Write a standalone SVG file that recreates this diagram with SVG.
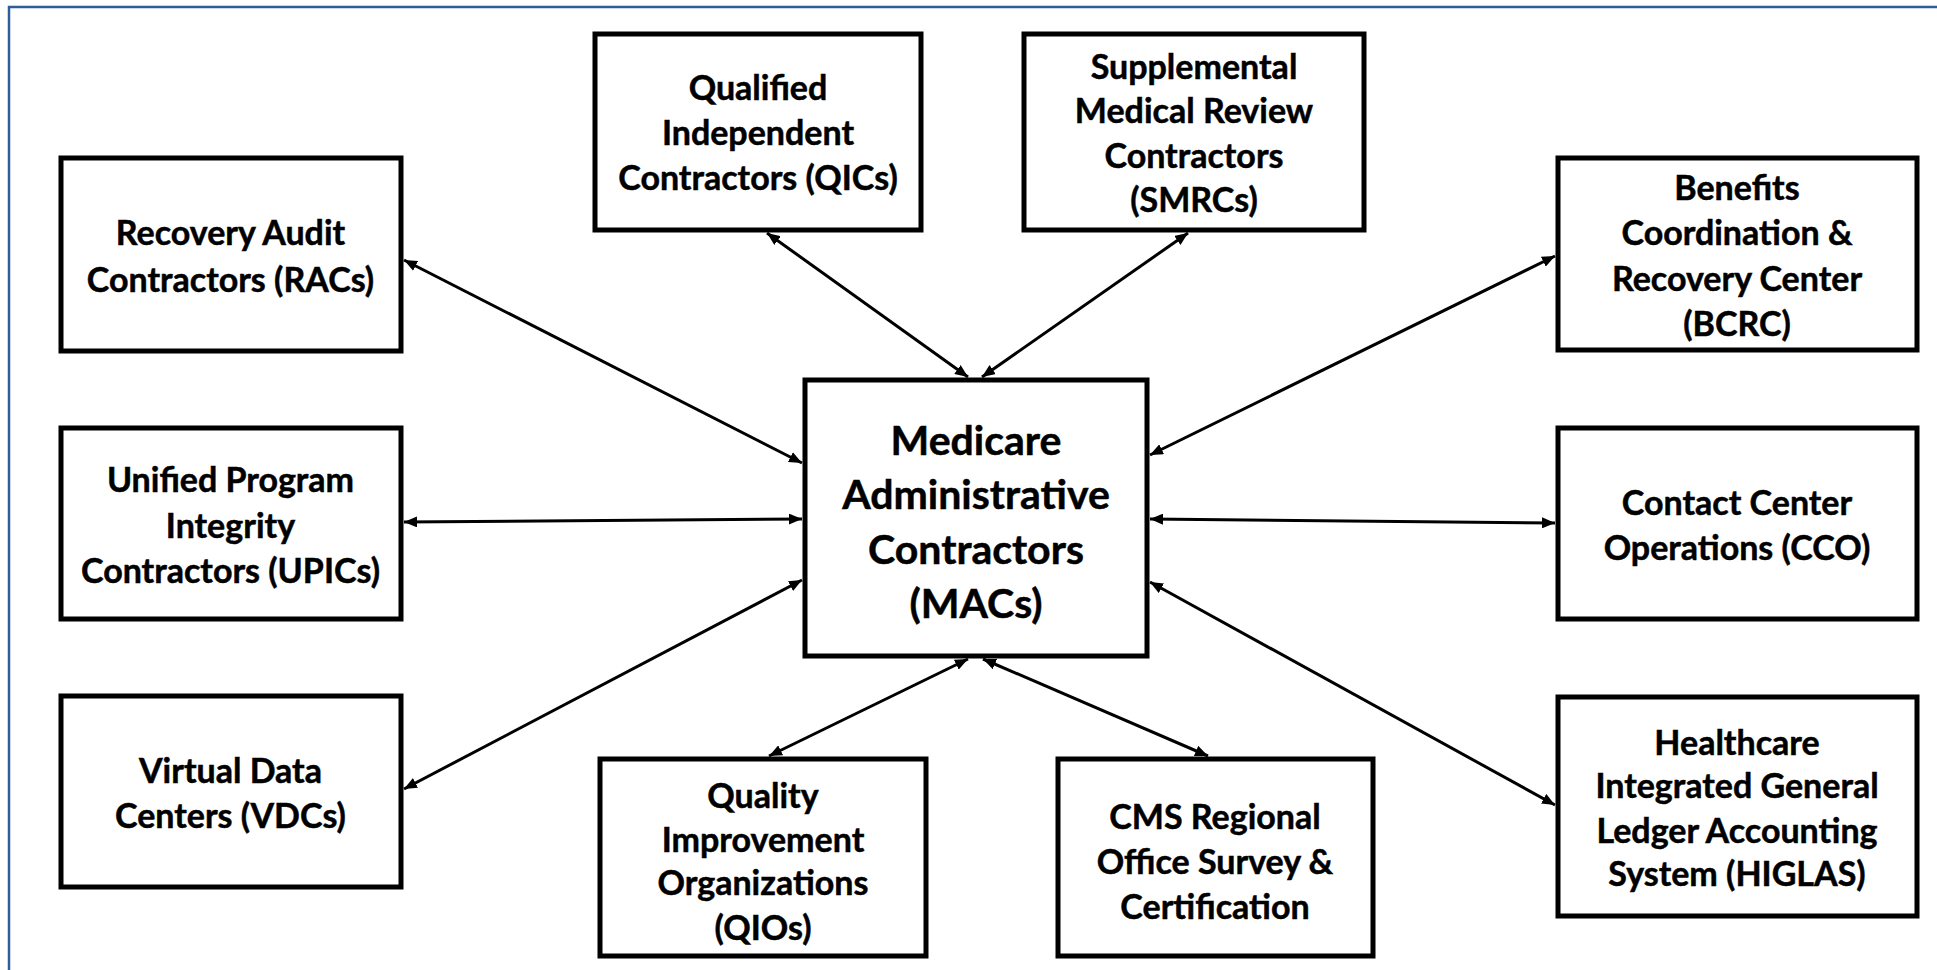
<svg xmlns="http://www.w3.org/2000/svg" width="1937" height="970" viewBox="0 0 1937 970">
  <style>
    .box { fill: #ffffff; stroke: #000000; stroke-width: 5; }
    .lbl { font-family: Lato, "Open Sans", "Liberation Sans", sans-serif; font-weight: bold; font-size: 34px; fill: #000000; stroke: #000000; stroke-width: 0.5; text-anchor: middle; }
    .big { font-size: 41px; }
    .link { stroke: #000000; stroke-width: 3; fill: none; marker-start: url(#head); marker-end: url(#head); }
  </style>
  <defs>
    <marker id="head" viewBox="0 0 13 11" refX="13" refY="5.5" markerWidth="13" markerHeight="11" markerUnits="userSpaceOnUse" orient="auto-start-reverse">
      <path d="M0,0 L13,5.5 L0,11 z" fill="#000000"/>
    </marker>
  </defs>

  <rect width="1937" height="970" fill="#ffffff"/>
  <!-- page frame (top and left edges) -->
  <path d="M9,970 V7 H1937" fill="none" stroke="#2f5d9a" stroke-width="2.5"/>

  <!-- connectors -->
  <g id="connectors">
    <path class="link" d="M404,260 L802,463"/>
    <path class="link" d="M404,522 L802,519"/>
    <path class="link" d="M404,789 L802,580"/>
    <path class="link" d="M767,233 L968,377"/>
    <path class="link" d="M1188,233 L982,377"/>
    <path class="link" d="M1555,256 L1150,455"/>
    <path class="link" d="M1555,523 L1150,519"/>
    <path class="link" d="M1555,805 L1150,582"/>
    <path class="link" d="M769,756 L968,659"/>
    <path class="link" d="M1208,756 L983,659"/>
  </g>

  <g id="mac">
    <rect class="box" x="805" y="380" width="342" height="276"/>
    <text class="lbl big" x="976" y="455">Medicare</text>
    <text class="lbl big" x="976" y="509">Administrative</text>
    <text class="lbl big" x="976" y="564">Contractors</text>
    <text class="lbl big" x="976" y="618">(MACs)</text>
  </g>

  <g id="rac">
    <rect class="box" x="61" y="158" width="340" height="193"/>
    <text class="lbl" x="230.5" y="245">Recovery Audit</text>
    <text class="lbl" x="230.5" y="292">Contractors (RACs)</text>
  </g>

  <g id="upic">
    <rect class="box" x="61" y="428" width="340" height="191"/>
    <text class="lbl" x="230.5" y="492">Unified Program</text>
    <text class="lbl" x="230.5" y="538">Integrity</text>
    <text class="lbl" x="230.5" y="583">Contractors (UPICs)</text>
  </g>

  <g id="vdc">
    <rect class="box" x="61" y="696" width="340" height="191"/>
    <text class="lbl" x="230.5" y="783">Virtual Data</text>
    <text class="lbl" x="230.5" y="828">Centers (VDCs)</text>
  </g>

  <g id="qic">
    <rect class="box" x="595" y="34" width="326" height="196"/>
    <text class="lbl" x="758" y="100">Qualified</text>
    <text class="lbl" x="758" y="145">Independent</text>
    <text class="lbl" x="758" y="190">Contractors (QICs)</text>
  </g>

  <g id="smrc">
    <rect class="box" x="1024" y="34" width="340" height="196"/>
    <text class="lbl" x="1194" y="79">Supplemental</text>
    <text class="lbl" x="1194" y="123">Medical Review</text>
    <text class="lbl" x="1194" y="168">Contractors</text>
    <text class="lbl" x="1194" y="212">(SMRCs)</text>
  </g>

  <g id="bcrc">
    <rect class="box" x="1558" y="158" width="359" height="192"/>
    <text class="lbl" x="1737" y="200">Benefits</text>
    <text class="lbl" x="1737" y="245">Coordination &amp;</text>
    <text class="lbl" x="1737" y="291">Recovery Center</text>
    <text class="lbl" x="1737" y="336">(BCRC)</text>
  </g>

  <g id="cco">
    <rect class="box" x="1558" y="428" width="359" height="191"/>
    <text class="lbl" x="1737" y="515">Contact Center</text>
    <text class="lbl" x="1737" y="560">Operations (CCO)</text>
  </g>

  <g id="higlas">
    <rect class="box" x="1558" y="697" width="359" height="219"/>
    <text class="lbl" x="1737" y="755">Healthcare</text>
    <text class="lbl" x="1737" y="798">Integrated General</text>
    <text class="lbl" x="1737" y="843">Ledger Accounting</text>
    <text class="lbl" x="1737" y="886">System (HIGLAS)</text>
  </g>

  <g id="qio">
    <rect class="box" x="600" y="759" width="326" height="197"/>
    <text class="lbl" x="763" y="808">Quality</text>
    <text class="lbl" x="763" y="852">Improvement</text>
    <text class="lbl" x="763" y="895">Organizations</text>
    <text class="lbl" x="763" y="940">(QIOs)</text>
  </g>

  <g id="cms">
    <rect class="box" x="1058" y="759" width="315" height="197"/>
    <text class="lbl" x="1215" y="829">CMS Regional</text>
    <text class="lbl" x="1215" y="874">Office Survey &amp;</text>
    <text class="lbl" x="1215" y="919">Certification</text>
  </g>
</svg>
